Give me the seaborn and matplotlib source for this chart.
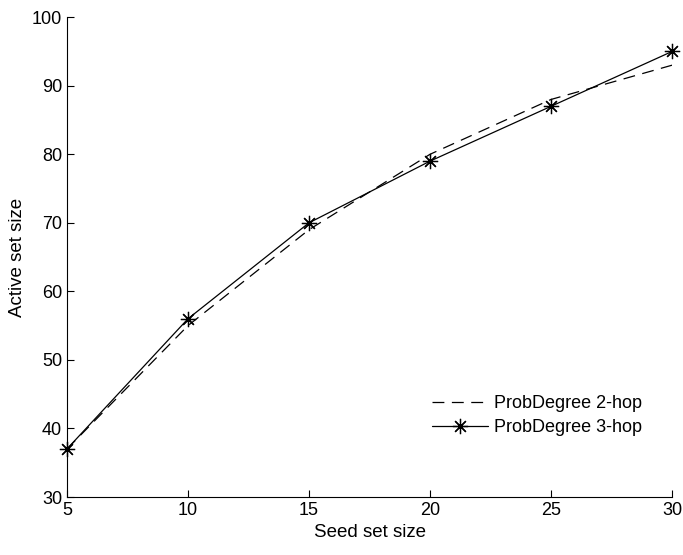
import matplotlib
matplotlib.use("Agg")
from matplotlib import pyplot as plt
import seaborn as sns
import pandas as pd

seed_sizes = [5, 10, 15, 20, 25, 30]
hop2 = [37, 55, 69, 80, 88, 93]
hop3 = [37, 56, 70, 79, 87, 95]
labels = ["ProbDegree 2-hop", "ProbDegree 3-hop"]

sns.set_style("ticks")
plt.rcParams['font.family'] = ['Liberation Sans', 'DejaVu Sans']
plt.rcParams['text.color'] = 'black'
plt.rcParams['axes.labelcolor'] = 'black'
plt.rcParams['xtick.color'] = 'black'
plt.rcParams['ytick.color'] = 'black'
plt.rcParams['axes.edgecolor'] = 'black'

df = pd.DataFrame({
    "seed": seed_sizes * 2,
    "active": hop2 + hop3,
    "method": [labels[0]] * len(seed_sizes) + [labels[1]] * len(seed_sizes),
})

fig = plt.figure(figsize=(6.83, 5.55), dpi=100)
ax = fig.add_axes([0.098, 0.1045, 0.886, 0.8645])

sns.lineplot(data=df[df.method == labels[0]], x="seed", y="active", ax=ax,
             color="black", linewidth=0.9, linestyle=(0, (9.5, 6)),
             label=labels[0])
sns.lineplot(data=df[df.method == labels[1]], x="seed", y="active", ax=ax,
             color="black", linewidth=0.9, marker=(8, 2, 0), markersize=11,
             markeredgewidth=0.9, markeredgecolor="black", markerfacecolor="black",
             label=labels[1], clip_on=False)

ax.set_xlim(5, 30)
ax.set_ylim(30, 100)
ax.set_xticks(seed_sizes)
ax.set_yticks(range(30, 101, 10))
ax.tick_params(labelsize=13, length=5, width=0.8, direction="in")
ax.set_xlabel("Seed set size", fontsize=13.5)
ax.set_ylabel("Active set size", fontsize=13.5)
sns.despine(ax=ax)

ax.legend(loc="upper left", bbox_to_anchor=(0.6325, 0.288),
          bbox_transform=fig.transFigure, frameon=False, borderpad=0,
          borderaxespad=0, fontsize=13, handlelength=3.1, labelspacing=0.38,
          handletextpad=0.35)

fig.savefig("out.png", dpi=100)
